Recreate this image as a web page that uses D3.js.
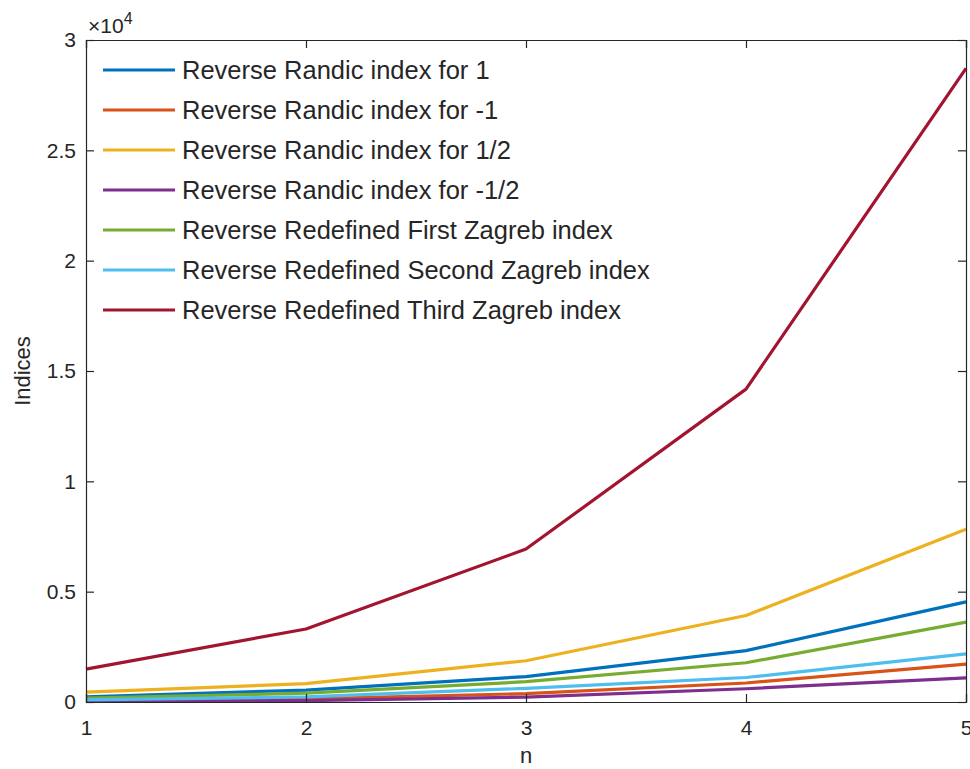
<!DOCTYPE html>
<html>
<head>
<meta charset="utf-8">
<script src="https://cdn.jsdelivr.net/npm/d3@7"></script>
<style>
  body { margin: 0; background: #fff; }
  text { font-family: "Liberation Sans", Arial, sans-serif; fill: #262626; }
</style>
</head>
<body>
<div id="chart"></div>
<script>
// data
const nValues = [1, 2, 3, 4, 5];
const seriesNames = [
  "Reverse Randic index for 1",
  "Reverse Randic index for -1",
  "Reverse Randic index for 1/2",
  "Reverse Randic index for -1/2",
  "Reverse Redefined First Zagreb index",
  "Reverse Redefined Second Zagreb index",
  "Reverse Redefined Third Zagreb index"
];
const randic1 = [230, 540, 1150, 2330, 4540];
const randicMinus1 = [50, 140, 380, 860, 1720];
const randicHalf = [450, 830, 1870, 3920, 7830];
const randicMinusHalf = [30, 60, 220, 600, 1090];
const firstZagreb = [180, 400, 920, 1780, 3620];
const secondZagreb = [100, 230, 620, 1110, 2180];
const thirdZagreb = [1490, 3310, 6930, 14180, 28710];
const seriesValues = [randic1, randicMinus1, randicHalf, randicMinusHalf, firstZagreb, secondZagreb, thirdZagreb];
const colors = ["#0072BD", "#D95319", "#EDB120", "#7E2F8E", "#77AC30", "#4DBEEE", "#A2142F"];
const yTicks = [0, 5000, 10000, 15000, 20000, 25000, 30000];

const width = 970, height = 769;
const margin = {top: 40, right: 4, bottom: 67, left: 86};
const w = width - margin.left - margin.right;
const h = height - margin.top - margin.bottom;

const svg = d3.select("#chart").append("svg")
  .attr("width", width)
  .attr("height", height);

const g = svg.append("g")
  .attr("transform", `translate(${margin.left},${margin.top})`);

const x = d3.scaleLinear().domain([1, 5]).range([0, w]);
const y = d3.scaleLinear().domain([0, 30000]).range([h, 0]);

const axisColor = "#262626";
const tickLen = 8;

// lines
const line = d3.line()
  .x((d, i) => x(nValues[i]))
  .y(d => y(d));

g.selectAll(".series")
  .data(seriesValues)
  .join("path")
  .attr("class", "series")
  .attr("fill", "none")
  .attr("stroke", (d, i) => colors[i])
  .attr("stroke-width", 3.2)
  .attr("stroke-linejoin", "round")
  .attr("d", line);

// axes (MATLAB style: ticks inside, box on)
const xAxis = d3.axisBottom(x).tickValues(nValues).tickSize(-tickLen).tickPadding(18)
  .tickFormat(d3.format("d"));
const yAxis = d3.axisLeft(y).tickValues(yTicks).tickSize(-tickLen).tickPadding(10)
  .tickFormat(d => d / 10000);

const xAxisG = g.append("g").attr("transform", `translate(0,${h})`).call(xAxis);
const yAxisG = g.append("g").call(yAxis);
const xTopG = g.append("g").call(d3.axisTop(x).tickValues(nValues).tickSize(-tickLen).tickFormat(""));
const yRightG = g.append("g").attr("transform", `translate(${w},0)`)
  .call(d3.axisRight(y).tickValues(yTicks).tickSize(-tickLen).tickFormat(""));

[xAxisG, yAxisG, xTopG, yRightG].forEach(a => {
  a.attr("font-size", null).attr("font-family", null);
  a.select(".domain").attr("stroke", axisColor).attr("stroke-width", 1.2);
  a.selectAll(".tick line").attr("stroke", axisColor).attr("stroke-width", 1.2);
  a.selectAll(".tick text")
    .style("font-size", "21px")
    .attr("fill", axisColor);
});

// exponent label
const expo = svg.append("text")
  .attr("x", margin.left + 2)
  .attr("y", 33)
  .style("font-size", "21px");
expo.append("tspan").text("\u00D710");
expo.append("tspan").attr("dy", -9).style("font-size", "16px").text("4");

// axis titles
svg.append("text")
  .attr("x", margin.left + w / 2)
  .attr("y", 763)
  .attr("text-anchor", "middle")
  .style("font-size", "22px")
  .text("n");

svg.append("text")
  .attr("transform", `translate(30,${margin.top + h / 2}) rotate(-90)`)
  .attr("text-anchor", "middle")
  .style("font-size", "22px")
  .text("Indices");

// legend
const legend = g.append("g").attr("transform", "translate(17,30)");
const rows = legend.selectAll(".row")
  .data(seriesNames)
  .join("g")
  .attr("class", "row")
  .attr("transform", (d, i) => `translate(0,${i * 40})`);

rows.append("line")
  .attr("x1", 0).attr("x2", 72)
  .attr("stroke", (d, i) => colors[i])
  .attr("stroke-width", 3.2);

rows.append("text")
  .attr("x", 79)
  .attr("dy", "0.36em")
  .style("font-size", "25.5px")
  .text(d => d);
</script>
</body>
</html>
